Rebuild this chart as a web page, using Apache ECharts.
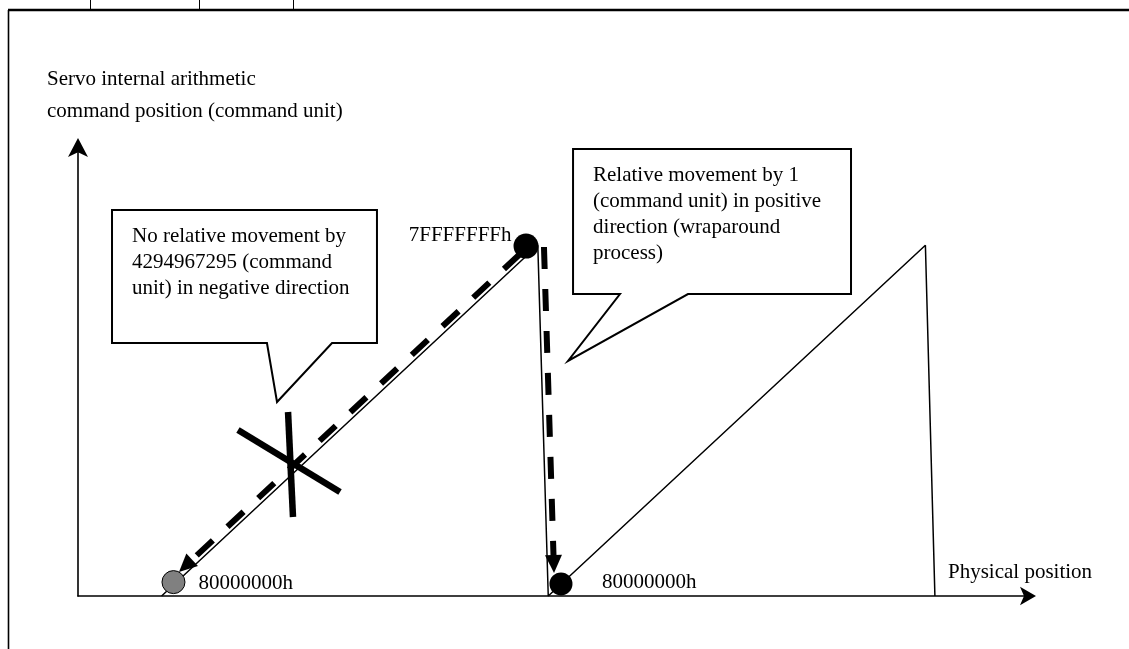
<!DOCTYPE html>
<html><head><meta charset="utf-8">
<script src="https://cdn.jsdelivr.net/npm/echarts@6/dist/echarts.min.js"></script>
<style>html,body{margin:0;padding:0;background:#fff}#c{width:1129px;height:649px}</style>
</head><body><div id="c"></div>
<script>
// ---- data (diagram values in axis units: x = physical position, y = command position) ----
const yAxisTitle = ['Servo internal arithmetic', 'command position (command unit)'];
const xAxisTitle = 'Physical position';
const sawX = [8.8, 48.4, 49.5, 89.2, 90.2];
const sawY = [0, 78.3, 0, 78.3, 0];
const pointX = [10.05, 47.16, 50.84];
const pointY = [3.1, 78.1, 2.7];
const pointLabels = ['80000000h', '7FFFFFFFh', '80000000h'];
const arrowStart = [[46.53, 76.34], [49.05, 77.9]];
const arrowEnd = [[10.63, 5.36], [50.11, 5.13]];
const crossStart = [[16.84, 37.05], [22.11, 41.07]];
const crossEnd = [[27.58, 23.21], [22.63, 17.63]];
const callout1Shape = [[3.58, 86.16], [31.47, 86.16], [31.47, 56.47], [26.74, 56.47], [20.95, 43.30], [19.89, 56.47], [3.58, 56.47]];
const callout2Shape = [[52.11, 99.78], [81.37, 99.78], [81.37, 67.41], [64.21, 67.41], [51.58, 52.46], [57.05, 67.41], [52.11, 67.41]];
const callout1Text = ['No relative movement by', '4294967295 (command', 'unit) in negative direction'];
const callout2Text = ['Relative movement by 1', '(command unit) in positive', 'direction (wraparound', 'process)'];

// ---- rendering ----
const FONT = '21px "Liberation Serif", "Times New Roman", serif';
const callouts = [
  { shape: callout1Shape, text: callout1Text },
  { shape: callout2Shape, text: callout2Text }
];
const chart = echarts.init(document.getElementById('c'), null, { renderer: 'canvas' });

const axisCommon = {
  type: 'value', min: 0, max: 100,
  axisTick: { show: false }, axisLabel: { show: false }, splitLine: { show: false }
};

const option = {
  animation: false,
  backgroundColor: '#fff',
  grid: { left: 78, right: 101, top: 148, bottom: 53 },
  xAxis: Object.assign({}, axisCommon, {
    axisLine: { show: true, symbol: ['none', 'arrow'], symbolSize: [14, 16], symbolOffset: [0, 8], lineStyle: { color: '#000', width: 1.6 } }
  }),
  yAxis: Object.assign({}, axisCommon, {
    axisLine: { show: true, symbol: ['none', 'arrow'], symbolSize: [15, 19], symbolOffset: [0, 10], lineStyle: { color: '#000', width: 1.6 } }
  }),
  graphic: [
    { type: 'line', shape: { x1: 8, y1: 10, x2: 1129, y2: 10 }, style: { stroke: '#000', lineWidth: 2.5 } },
    { type: 'line', shape: { x1: 8.5, y1: 10, x2: 8.5, y2: 649 }, style: { stroke: '#000', lineWidth: 1.6 } },
    { type: 'line', shape: { x1: 90.5, y1: 0, x2: 90.5, y2: 10 }, style: { stroke: '#000', lineWidth: 1 } },
    { type: 'line', shape: { x1: 199.5, y1: 0, x2: 199.5, y2: 10 }, style: { stroke: '#000', lineWidth: 1 } },
    { type: 'line', shape: { x1: 293.5, y1: 0, x2: 293.5, y2: 10 }, style: { stroke: '#000', lineWidth: 1 } },
    { type: 'text', x: 47, y: 79, style: { text: yAxisTitle[0], font: FONT, fill: '#000', verticalAlign: 'middle' } },
    { type: 'text', x: 47, y: 111, style: { text: yAxisTitle[1], font: FONT, fill: '#000', verticalAlign: 'middle' } },
    { type: 'text', x: 948, y: 572, style: { text: xAxisTitle, font: FONT, fill: '#000', verticalAlign: 'middle' } }
  ],
  series: [
    {
      type: 'custom', name: 'callouts', coordinateSystem: 'cartesian2d', clip: false, z: 3,
      data: callouts.map((c, i) => [c.shape[0][0], c.shape[0][1], i]),
      encode: { x: 0, y: 1 },
      renderItem: function (params, api) {
        const c = callouts[params.dataIndex];
        const pts = c.shape.map(p => api.coord(p));
        return {
          type: 'group',
          children: [
            { type: 'polygon', shape: { points: pts }, style: { fill: '#fff', stroke: '#000', lineWidth: 2 } },
            { type: 'text', x: pts[0][0] + 20, y: pts[0][1] + 13.5,
              style: { text: c.text.join('\n'), font: FONT, lineHeight: 26, fill: '#000', verticalAlign: 'top' } }
          ]
        };
      }
    },
    {
      type: 'line', name: 'command position', data: sawX.map((x, i) => [x, sawY[i]]),
      showSymbol: false, symbol: 'none', lineStyle: { color: '#000', width: 1.5 }, z: 2
    },
    {
      type: 'custom', name: 'movement arrows', coordinateSystem: 'cartesian2d', clip: false, z: 4,
      data: arrowStart.map((s, i) => [s[0], s[1], arrowEnd[i][0], arrowEnd[i][1]]),
      encode: { x: [0, 2], y: [1, 3] },
      renderItem: function (params, api) {
        const p0 = api.coord([api.value(0), api.value(1)]);
        const p1 = api.coord([api.value(2), api.value(3)]);
        const dx = p1[0] - p0[0], dy = p1[1] - p0[1];
        const len = Math.sqrt(dx * dx + dy * dy);
        const ux = dx / len, uy = dy / len;
        const headL = 18, headW = 8.5;
        const bx = p1[0] - ux * headL, by = p1[1] - uy * headL;
        return {
          type: 'group',
          children: [
            { type: 'line', shape: { x1: p0[0], y1: p0[1], x2: bx + ux * 2, y2: by + uy * 2 },
              style: { stroke: '#000', lineWidth: 6, lineDash: [22, 20] } },
            { type: 'polygon', shape: { points: [[p1[0], p1[1]], [bx - uy * headW, by + ux * headW], [bx + uy * headW, by - ux * headW]] },
              style: { fill: '#000' } }
          ]
        };
      }
    },
    {
      type: 'custom', name: 'rejected', coordinateSystem: 'cartesian2d', clip: false, z: 4,
      data: crossStart.map((s, i) => [s[0], s[1], crossEnd[i][0], crossEnd[i][1]]),
      encode: { x: [0, 2], y: [1, 3] },
      renderItem: function (params, api) {
        const p0 = api.coord([api.value(0), api.value(1)]);
        const p1 = api.coord([api.value(2), api.value(3)]);
        return { type: 'line', shape: { x1: p0[0], y1: p0[1], x2: p1[0], y2: p1[1] },
          style: { stroke: '#000', lineWidth: 6.5 } };
      }
    },
    {
      type: 'scatter', name: 'positions', z: 5,
      itemStyle: { opacity: 1 },
      data: [
        { value: [pointX[0], pointY[0]], symbolSize: 23, itemStyle: { color: '#808080', borderColor: '#000', borderWidth: 1, opacity: 1 },
          label: { show: true, formatter: pointLabels[0], position: 'right', distance: 13, offset: [0, 1] } },
        { value: [pointX[1], pointY[1]], symbolSize: 25, itemStyle: { color: '#000', opacity: 1 },
          label: { show: true, formatter: pointLabels[1], position: 'left', distance: 2, offset: [0, -11] } },
        { value: [pointX[2], pointY[2]], symbolSize: 23, itemStyle: { color: '#000', opacity: 1 },
          label: { show: true, formatter: pointLabels[2], position: 'right', distance: 29.5, offset: [0, -1] } }
      ],
      label: { color: '#000', opacity: 1, fontSize: 21, fontFamily: '"Liberation Serif", "Times New Roman", serif' }
    }
  ]
};
chart.setOption(option);
</script>
</body></html>
